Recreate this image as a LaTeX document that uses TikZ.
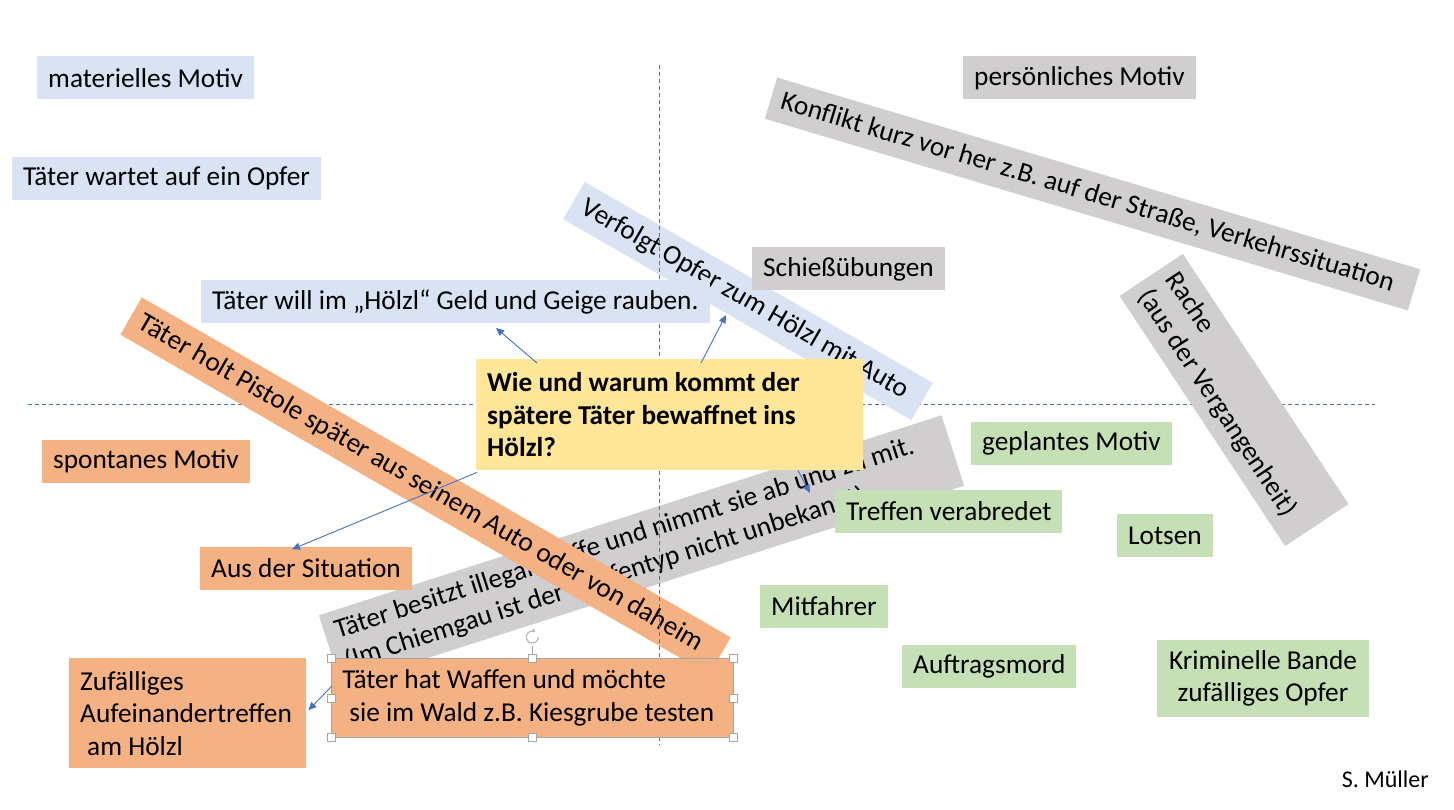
\documentclass[tikz,border=0pt]{standalone}
\usepackage{fontspec}
\setmainfont{Carlito}
\usetikzlibrary{arrows.meta,calc}
\definecolor{cblue}{HTML}{DAE3F3}
\definecolor{cgray}{HTML}{D0CECE}
\definecolor{cgreen}{HTML}{C5E0B4}
\definecolor{corange}{HTML}{F4B183}
\definecolor{cyellow}{HTML}{FFE699}
\definecolor{cline}{HTML}{4472C4}
\definecolor{chandle}{HTML}{A6A6A6}
\tikzset{
  box/.style={inner xsep=11pt, inner ysep=5pt, minimum height=43pt, anchor=west, text=black},
  bbox/.style={box, fill=cblue},
  gbox/.style={box, fill=cgray},
  grbox/.style={box, fill=cgreen},
  obox/.style={box, fill=corange},
  rbox/.style={inner xsep=11pt, inner ysep=5pt, align=flush left, anchor=center, text=black},
  conn/.style={draw=cline, line width=0.9pt, -{Triangle[length=8pt,width=7pt]}},
  axisline/.style={draw=cline, line width=0.8pt, dash pattern=on 4pt off 3pt},
  handle/.style={draw=chandle, fill=white, minimum size=8pt, inner sep=0pt, line width=0.7pt}
}
\begin{document}
\begin{tikzpicture}[x=1pt,y=-1pt,font=\fontsize{27.3}{32.5}\selectfont]
\useasboundingbox (0,0) rectangle (1454,810);
\fill[white] (0,0) rectangle (1454,810);

% horizontal axis (behind everything)
\coordinate (hL) at (28,404);
\coordinate (hR) at (1375,404);
\draw[axisline] (hL) -- (hR);

% rotated boxes
\node[rbox, fill=cblue, rotate=-30, text width=380pt, minimum height=43pt] (verf) at (748,301) {\mbox{Verfolgt Opfer zum Hölzl mit Auto}};
\node[rbox, fill=cgray, rotate=-16.6, text width=649pt, minimum height=43pt] (konf) at (1092.5,194) {\mbox{Konflikt kurz vor her z.B. auf der Straße, Verkehrssituation}};
\node[rbox, fill=cgray, rotate=-56.5, text width=278pt, minimum height=76pt] (rache) at (1234,400) {\mbox{Rache}\\\mbox{(aus der Vergangenheit)}};
\node[rbox, fill=cgray, rotate=17.8, text width=632pt, minimum height=74pt] (bes) at (641.5,550.5) {\mbox{Täter besitzt illegal Waffe und nimmt sie ab und zu mit.}\\\mbox{(Im Chiemgau ist der Waffentyp nicht unbekannt)}};

% axis-aligned boxes
\node[bbox] (mat) at (37,78) {materielles Motiv};
\node[bbox] (wart) at (12,178.5) {Täter wartet auf ein Opfer};
\node[gbox] (pers) at (963,78) {persönliches Motiv};
\node[gbox] (schiess) at (752,269) {Schießübungen};
\node[grbox] (gepl) at (971,443.5) {geplantes Motiv};
\node[grbox] (lots) at (1117,535.5) {Lotsen};
\node[grbox] (mitf) at (760,606) {Mitfahrer};
\node[grbox] (auft) at (902,666.5) {Auftragsmord};
\node[fill=cgreen, text=black, inner xsep=11pt, inner ysep=5pt, text width=190pt, align=flush center, minimum height=77pt] (bande) at (1263,678.5) {\mbox{Kriminelle Bande}\\\mbox{zufälliges Opfer}};
\node[obox] (spont) at (42,461.5) {spontanes Motiv};
\node[obox] (sit) at (200,568) {Aus der Situation};
\node[fill=corange, text=black, anchor=north west, inner xsep=11pt, inner ysep=5pt, text width=215pt, align=flush left, minimum height=110pt] (zuf) at (69,658) {\mbox{Zufälliges}\\\mbox{Aufeinandertreffen}\\\mbox{\hspace*{7pt}am Hölzl}};

% orange rotated band
\node[rbox, fill=corange, rotate=-30, text width=658pt, minimum height=43pt] (pist) at (425.5,486) {\mbox{Täter holt Pistole später aus seinem Auto oder von daheim}};

% vertical axis
\coordinate (vT) at (659,65);
\coordinate (vB) at (659,745);
\draw[axisline] (vT) -- (vB);

\node[bbox] (will) at (201,302) {Täter will im „Hölzl“ Geld und Geige rauben.};

% central question
\node[fill=cyellow, text=black, anchor=north west, inner xsep=11pt, inner ysep=6pt, text width=365pt, align=flush left, minimum height=111pt, font=\fontsize{27.3}{32.5}\selectfont\bfseries] (q) at (476,359) {\mbox{Wie und warum kommt der}\\\mbox{spätere Täter bewaffnet ins}\\\mbox{Hölzl?}};

\node[grbox] (treff) at (835,511.5) {Treffen verabredet};

% selected box with handles
\node[fill=corange, draw=chandle, line width=0.7pt, text=black, anchor=north west, inner xsep=11pt, inner ysep=5pt, text width=380pt, align=flush left, minimum height=79pt] (waff) at (331,658) {\mbox{Täter hat Waffen und möchte}\\\mbox{\hspace*{7pt}sie im Wald z.B. Kiesgrube testen}};
\draw[chandle, line width=0.7pt] (waff.north) -- ++(0,-12);
\draw[chandle!80, line width=1.2pt, -{Triangle[length=3pt,width=4pt]}] ($(waff.north)+(6,-21)$) arc[start angle=0, end angle=300, radius=6];
\foreach \a in {north west,north,north east,east,south east,south,south west,west}
  \node[handle] at (waff.\a) {};

% connectors
\coordinate (e1) at (496,328);
\coordinate (e2) at (726,315);
\coordinate (e4) at (810,493);
\draw[conn] ($(q.north west)+(61,4)$) -- (e1);
\draw[conn] ($(q.north west)+(225,4)$) -- (e2);
\draw[conn] ($(q.south west)+(1,2)$) -- ($(sit.north west)+(92,3)$);
\draw[conn] ($(q.south west)+(322,0)$) -- (e4);
\draw[conn] ($(waff.west)+(1,-12)$) -- ($(zuf.east)+(2,-3)$);

% author
\node[anchor=east, inner sep=0pt, font=\fontsize{24}{28}\selectfont] (auth) at (1429,779) {S. Müller};
\end{tikzpicture}
\end{document}
